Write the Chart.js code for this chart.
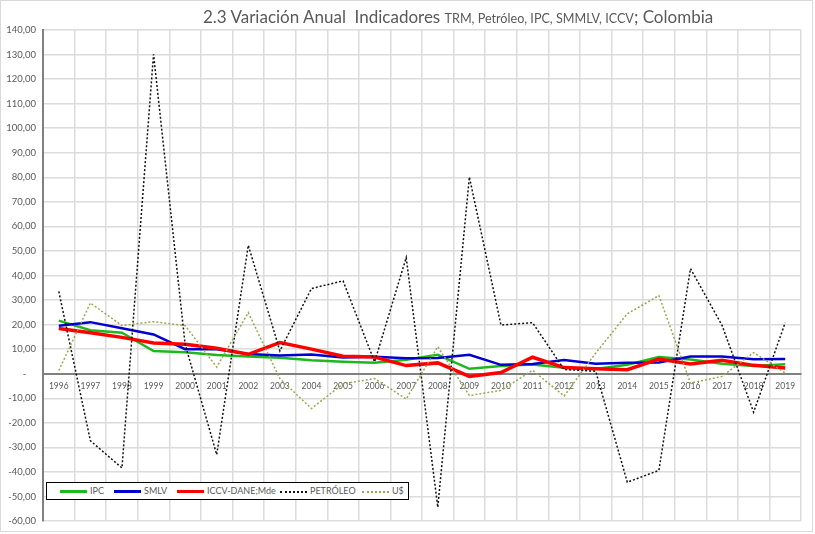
<!DOCTYPE html>
<html><head><meta charset="utf-8">
<script src="https://cdn.jsdelivr.net/npm/chart.js@4.4.1/dist/chart.umd.min.js"></script>
<style>
html,body{margin:0;padding:0;background:#fff;}
#wrap{position:relative;width:815px;height:534px;overflow:hidden;background:#fff;}
#frame{position:absolute;left:0;top:0;width:811px;height:530px;border:1px solid #d9d9d9;pointer-events:none;}
canvas{position:absolute;left:0;top:0;}
#title{position:absolute;left:203px;top:7px;white-space:nowrap;font-family:Lato,sans-serif;color:#595959;font-size:17px;line-height:1.2;}
#title .s{font-size:12.6px;}
#legend{position:absolute;left:46px;top:482px;width:361px;height:16px;border:1px solid #000;background:#fff;font-family:Lato,sans-serif;font-size:9px;color:#595959;}
.item{position:absolute;top:0;height:16px;line-height:16px;white-space:nowrap;}
.sw{display:inline-block;width:27px;height:0;vertical-align:middle;margin-right:3px;}
</style></head>
<body>
<div id="wrap">
  <canvas id="c" width="815" height="534"></canvas>
  <div id="title">2.3 Variación Anual&nbsp; Indicadores <span class="s">TRM, Petróleo, IPC, SMMLV, ICCV</span>; Colombia</div>
  <div id="legend"></div>
  <div id="frame"></div>
</div>
<script>
const years = ['1996','1997','1998','1999','2000','2001','2002','2003','2004','2005','2006','2007','2008','2009','2010','2011','2012','2013','2014','2015','2016','2017','2018','2019'];
const ipc = [21.63,17.68,16.70,9.23,8.75,7.65,6.99,6.49,5.50,4.85,4.48,5.69,7.67,2.00,3.17,3.73,2.44,1.94,3.66,6.77,5.75,4.09,3.18,3.80];
const smlv = [19.5,21.0,18.5,16.0,10.0,10.0,8.0,7.4,7.8,6.6,6.9,6.3,6.4,7.7,3.6,4.0,5.6,4.1,4.5,4.6,7.0,7.0,5.9,6.0];
const iccv = [18.4,16.7,14.8,12.5,12.0,10.4,7.9,12.7,10.0,7.1,6.8,3.3,4.4,-1.1,0.5,6.7,2.5,2.0,1.6,6.0,4.0,5.5,3.4,2.3];
const petroleo = [33.5,-27.3,-38.4,130.1,12.0,-33.0,52.3,9.3,34.7,37.8,4.8,47.3,-54.4,80.1,19.8,20.8,1.7,1.0,-44.2,-39.4,42.8,19.7,-15.7,20.8];
const us = [1.3,28.8,19.6,21.2,19.6,2.7,24.9,-2.0,-14.2,-4.1,-2.0,-10.3,11.0,-8.9,-6.8,1.4,-9.1,8.4,24.4,31.8,-3.8,-1.1,8.6,0.3];
const seriesNames = ['IPC','SMLV','ICCV-DANE;Mde','PETRÓLEO','U$'];
const yMin = -60, yMax = 140, yStep = 10;

const styles = [
  {color:'#1db81d', width:2.5, dash:[]},
  {color:'#0000d0', width:2.5, dash:[]},
  {color:'#ff0000', width:3.5, dash:[]},
  {color:'#111111', width:1.5, dash:[2,2]},
  {color:'#9aa64c', width:1.5, dash:[2,2]}
];
const allData = [ipc, smlv, iccv, petroleo, us];

const datasets = allData.map((d,i)=>({
  label: seriesNames[i],
  data: d,
  borderColor: styles[i].color,
  backgroundColor: styles[i].color,
  borderWidth: styles[i].width,
  borderDash: styles[i].dash,
  pointRadius: 0,
  tension: 0,
  fill: false,
  order: allData.length - i
}));

new Chart(document.getElementById('c'), {
  type: 'line',
  data: { labels: years, datasets },
  options: {
    responsive: false,
    animation: false,
    layout: { padding: { top: 30, right: 14, bottom: 13, left: 0 } },
    plugins: { legend: { display: false }, title: { display: false }, tooltip: { enabled: false } },
    scales: {
      x: {
        type: 'category',
        position: { y: 0 },
        offset: true,
        grid: { offset: true, color: '#dcdcdc', lineWidth: 1.5, drawTicks: false },
        border: { display: true, color: '#808080', width: 2 },
        ticks: { autoSkip: false, maxRotation: 0, minRotation: 0, padding: 7, color: '#595959', font: { family: 'Lato', size: 8.5 } },
        afterFit(s) { s.height = 0; }
      },
      y: {
        min: yMin, max: yMax,
        grid: { color: '#dcdcdc', lineWidth: 1.5, drawTicks: false },
        border: { color: '#808080', width: 2 },
        ticks: {
          stepSize: yStep, autoSkip: false, padding: 7, color: '#595959',
          font: { family: 'Lato', size: 9.5 },
          callback: v => v === 0 ? '-    ' : v.toFixed(2).replace('.', ',')
        },
        afterFit(s) { s.width = 43; }
      }
    }
  }
});

// HTML legend built from the series
const legendLefts = [13, 67, 130, 233, 315];
const lg = document.getElementById('legend');
seriesNames.forEach((n,i)=>{
  const it = document.createElement('div');
  it.className = 'item';
  it.style.left = legendLefts[i] + 'px';
  const sw = document.createElement('span');
  sw.className = 'sw';
  if (styles[i].dash.length) sw.style.borderTop = '2px dotted ' + styles[i].color;
  else sw.style.borderTop = '3px solid ' + styles[i].color;
  it.appendChild(sw);
  it.appendChild(document.createTextNode(n));
  lg.appendChild(it);
});
</script>
</body></html>
